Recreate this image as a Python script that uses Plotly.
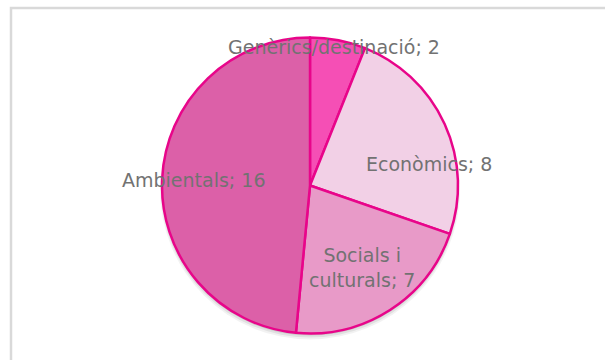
import plotly.graph_objects as go

# Slice data (clockwise from 12 o'clock)
categories = ["Genèrics/destinació", "Econòmics", "Socials i culturals", "Ambientals"]
values = [2, 8, 7, 16]
colors = ["#f54fb5", "#f2d0e6", "#e89ac8", "#dc60a8"]

# label text lines and their centre positions (pixels from top-left)
label_lines = {
    "Genèrics/destinació": ["Genèrics/destinació; {v}"],
    "Econòmics": ["Econòmics; {v}"],
    "Socials i culturals": ["Socials i", "culturals; {v}"],
    "Ambientals": ["Ambientals; {v}"],
}
label_pos = {
    "Genèrics/destinació": (334, 47),
    "Econòmics": (429, 164),
    "Socials i culturals": (362, 267),
    "Ambientals": (193, 180),
}

W, H = 605, 360
cx, cy, r = 310, 185.5, 148

fig = go.Figure()
fig.add_trace(go.Pie(
    labels=categories,
    values=values,
    sort=False,
    direction="clockwise",
    rotation=0,
    marker=dict(colors=colors, line=dict(color="#e8058a", width=2.5)),
    textinfo="none",
    hoverinfo="label+value",
    showlegend=False,
    domain=dict(x=[(cx - r) / W, (cx + r) / W],
                y=[(H - cy - r) / H, (H - cy + r) / H]),
))

shapes = []
# soft drop shadow beneath the pie
for i, (dy, extra, a) in enumerate([(4, 2, 0.05), (3, 1, 0.07), (2, 0, 0.10)]):
    shapes.append(dict(
        type="circle", xref="paper", yref="paper", layer="below",
        x0=(cx - r - extra) / W, x1=(cx + r + extra) / W,
        y0=(H - cy - dy - r - extra) / H, y1=(H - cy - dy + r + extra) / H,
        fillcolor=f"rgba(0,0,0,{a})", line=dict(width=0),
    ))
# chart area frame
shapes.append(dict(
    type="rect", xref="paper", yref="paper", layer="below",
    x0=11 / W, x1=1.02, y0=-0.02, y1=(H - 8) / H,
    line=dict(color="#d9d9d9", width=2.5), fillcolor="rgba(0,0,0,0)",
))

annotations = []
for cat, v in zip(categories, values):
    px, py = label_pos[cat]
    text = "<br>".join(s.format(v=v) for s in label_lines[cat])
    annotations.append(dict(
        x=px / W, y=(H - py) / H, xref="paper", yref="paper",
        text=text, showarrow=False, xanchor="center", yanchor="middle",
        font=dict(family="DejaVu Sans", size=19, color="#727272"),
    ))

fig.update_layout(
    width=W, height=H,
    margin=dict(l=0, r=0, t=0, b=0),
    paper_bgcolor="white",
    plot_bgcolor="white",
    shapes=shapes,
    annotations=annotations,
)

fig.write_html("out.html")
